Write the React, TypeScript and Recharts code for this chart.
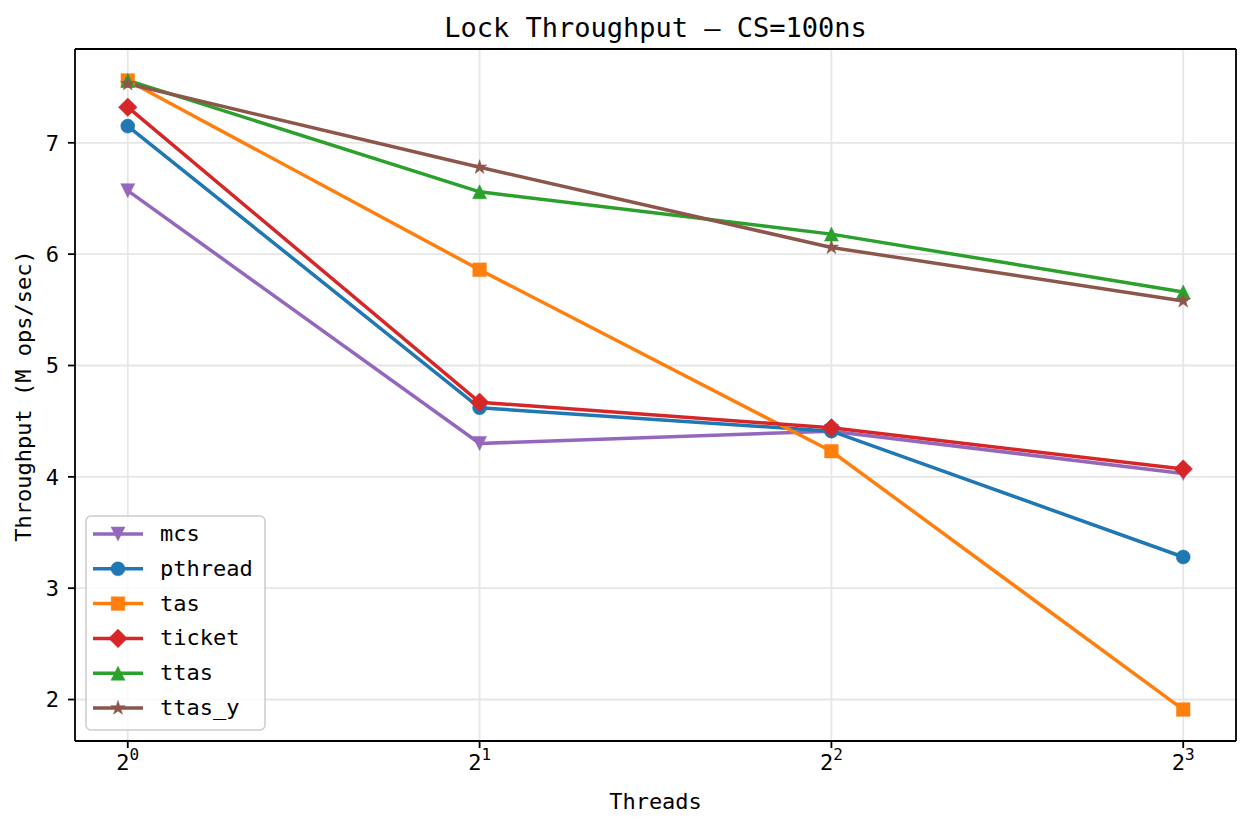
import React from 'react';
import { LineChart, Line, XAxis, YAxis, CartesianGrid, ReferenceLine } from 'recharts';

const FONT = '"DejaVu Sans Mono", monospace';

// thread counts on the x axis (log2 scale)
const threads = [1, 2, 4, 8];

// throughput, M ops/sec
const mcs = [6.57, 4.3, 4.41, 4.03];
const pthread = [7.15, 4.62, 4.41, 3.28];
const tas = [7.56, 5.86, 4.23, 1.91];
const ticket = [7.32, 4.67, 4.44, 4.07];
const ttas = [7.56, 6.56, 6.18, 5.66];
const ttasY = [7.53, 6.78, 6.06, 5.58];

const yTicks = [2, 3, 4, 5, 6, 7];

type MarkerKind = 'v' | 'o' | 's' | 'D' | '^' | '*';

const series: { key: string; color: string; marker: MarkerKind; values: number[] }[] = [
  { key: 'mcs', color: '#9467bd', marker: 'v', values: mcs },
  { key: 'pthread', color: '#1f77b4', marker: 'o', values: pthread },
  { key: 'tas', color: '#ff7f0e', marker: 's', values: tas },
  { key: 'ticket', color: '#d62728', marker: 'D', values: ticket },
  { key: 'ttas', color: '#2ca02c', marker: '^', values: ttas },
  { key: 'ttas_y', color: '#8c564b', marker: '*', values: ttasY },
];

const data = threads.map((t, i) => {
  const row: Record<string, number> = { threads: t };
  series.forEach((s) => (row[s.key] = s.values[i]));
  return row;
});

// matplotlib-ish 5% margins around the data
const xDomain = [Math.pow(2, -0.15), Math.pow(2, 3.15)];
const yMin = Math.min(...series.flatMap((s) => s.values));
const yMax = Math.max(...series.flatMap((s) => s.values));
const yPad = (yMax - yMin) * 0.05;
const yDomain = [yMin - yPad, yMax + yPad];

function markerPath(kind: MarkerKind, cx: number, cy: number): string {
  switch (kind) {
    case 'v':
      return `M${cx - 7},${cy - 7}L${cx + 7},${cy - 7}L${cx},${cy + 7}Z`;
    case '^':
      return `M${cx - 7},${cy + 7}L${cx + 7},${cy + 7}L${cx},${cy - 7}Z`;
    case 's':
      return `M${cx - 6.8},${cy - 6.8}h13.6v13.6h-13.6Z`;
    case 'D':
      return `M${cx},${cy - 9.3}L${cx + 9.3},${cy}L${cx},${cy + 9.3}L${cx - 9.3},${cy}Z`;
    case '*': {
      let d = '';
      for (let k = 0; k < 10; k++) {
        const r = k % 2 === 0 ? 7.6 : 2.9;
        const a = -Math.PI / 2 + (k * Math.PI) / 5;
        d += `${k === 0 ? 'M' : 'L'}${cx + r * Math.cos(a)},${cy + r * Math.sin(a)}`;
      }
      return d + 'Z';
    }
    default:
      return `M${cx - 7},${cy}a7,7 0 1,0 14,0a7,7 0 1,0 -14,0Z`;
  }
}

function Marker({ kind, color, cx, cy }: { kind: MarkerKind; color: string; cx: number; cy: number }) {
  return <path d={markerPath(kind, cx, cy)} fill={color} stroke={color} strokeWidth={0.5} />;
}

function PowerTick(props: any) {
  const { x, y, payload } = props;
  const exp = Math.round(Math.log2(payload.value));
  return (
    <text x={x} y={y + 22} textAnchor="middle" fontFamily={FONT} fill="#000">
      <tspan fontSize={22}>2</tspan>
      <tspan fontSize={16} dy={-10}>{exp}</tspan>
    </text>
  );
}

const axisStroke = { stroke: '#000', strokeWidth: 1.8 };

export default function App() {
  return (
    <div style={{ position: 'absolute', left: 0, top: 0, width: 1252, height: 828, background: '#fff' }}>
      <LineChart
        width={1252}
        height={828}
        data={data}
        margin={{ top: 49, right: 16, bottom: 47, left: 15 }}
        style={{ fontFamily: FONT }}
      >
        <CartesianGrid stroke="#e6e6e6" strokeWidth={1.8} />
        <XAxis
          dataKey="threads"
          type="number"
          scale="log"
          domain={xDomain}
          allowDataOverflow
          ticks={threads}
          height={40}
          tickSize={7}
          tickMargin={0}
          tickLine={axisStroke}
          axisLine={axisStroke}
          tick={<PowerTick />}
        />
        <YAxis
          type="number"
          domain={yDomain}
          allowDataOverflow
          ticks={yTicks}
          width={60}
          tickSize={7}
          tickMargin={9}
          tickLine={axisStroke}
          axisLine={axisStroke}
          tick={{ fontSize: 22, fill: '#000', fontFamily: FONT }}
        />
        {series.map((s) => (
          <Line
            key={s.key}
            dataKey={s.key}
            type="linear"
            stroke={s.color}
            strokeWidth={3.5}
            isAnimationActive={false}
            activeDot={false}
            dot={(p: any) => (
              <Marker key={`${s.key}-${p.index}`} kind={s.marker} color={s.color} cx={p.cx} cy={p.cy} />
            )}
          />
        ))}
        {/* top and right spines */}
        <ReferenceLine y={yDomain[1]} stroke="#000" strokeWidth={1.8} ifOverflow="visible" />
        <ReferenceLine x={xDomain[1]} stroke="#000" strokeWidth={1.8} ifOverflow="visible" />
      </LineChart>

      <svg
        width={1252}
        height={828}
        style={{ position: 'absolute', left: 0, top: 0, pointerEvents: 'none' }}
        fontFamily={FONT}
      >
        <text x={655.5} y={37} textAnchor="middle" fontSize={27} fill="#000">
          Lock Throughput — CS=100ns
        </text>
        <text x={655.5} y={809} textAnchor="middle" fontSize={22} fill="#000">
          Threads
        </text>
        <text x={31} y={396} textAnchor="middle" fontSize={22} fill="#000" transform="rotate(-90 31 396)">
          Throughput (M ops/sec)
        </text>

        <rect x={86} y={516} width={179} height={214} rx={5} fill="#fff" fillOpacity={0.8} stroke="#cccccc" strokeWidth={1.5} />
        {series.map((s, i) => {
          const cy = 534 + i * 34.8;
          return (
            <g key={s.key}>
              <line x1={93} x2={143} y1={cy} y2={cy} stroke={s.color} strokeWidth={3.5} />
              <Marker kind={s.marker} color={s.color} cx={118} cy={cy} />
              <text x={160} y={cy + 7} fontSize={22} fill="#000">
                {s.key}
              </text>
            </g>
          );
        })}
      </svg>
    </div>
  );
}
